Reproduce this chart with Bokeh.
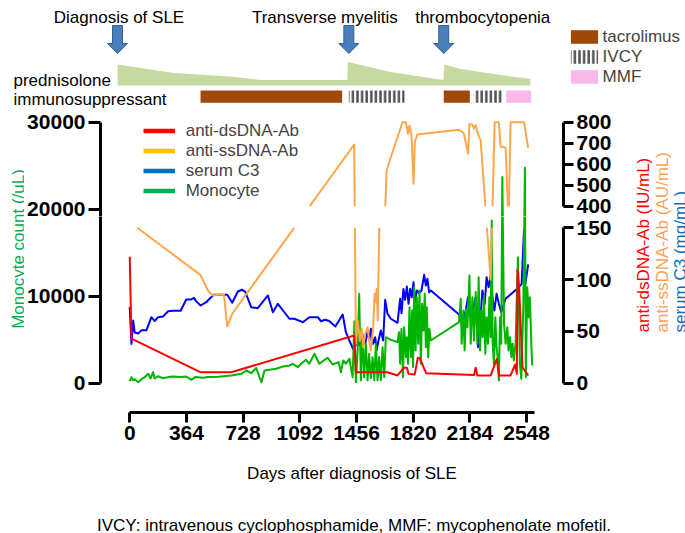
import math
from bokeh.plotting import figure
from bokeh.models import Range1d, LinearAxis, FixedTicker, Legend, LegendItem
from bokeh.layouts import column, row
from bokeh.embed import file_html
from bokeh.resources import INLINE
from bokeh.core.properties import value

FONT = "Liberation Sans"
NAN = float("nan")

# ---------------- data ----------------
event_labels = ["Diagnosis of SLE", "Transverse myelitis", "thrombocytopenia"]
event_days = [0, 1482, 2090]

pred_days = [0, 361, 723, 916, 1472, 1476, 1749, 2088, 2094, 2198, 2369, 2645]
pred_dose = [42, 25, 18, 11, 11, 47, 27, 11, 42, 33, 25, 13]

tacrolimus_start = [532, 2090]
tacrolimus_end = [1439, 2257]
ivcy_start = [1482, 2283]
ivcy_end = [1839, 2465]
mmf_start = [2490]
mmf_end = [2650]
drug_names = ["tacrolimus", "IVCY", "MMF"]
row_labels = ["prednisolone", "immunosuppressant"]

x_ticks = [0, 364, 728, 1092, 1456, 1820, 2184, 2548]
mono_ticks = [0, 10000, 20000, 30000]
ab_low_ticks = [0, 50, 100, 150]
ab_high_ticks = [400, 500, 600, 700, 800]

dsdna_days = [0, 11, 453, 652, 1441, 1452, 1655, 1719, 1762, 1780, 1790, 1830, 1849, 1862, 1903,
              2210, 2221, 2232, 2317, 2357, 2370, 2445, 2474, 2485, 2490, 2500, 2521, 2559]
dsdna_vals = [122, 43, 10.6, 10.6, 46, 10.6, 10.6, 7.5, 15, 15, 9, 8.5, 24.5, 24, 9.7,
              8, 15, 7.5, 7.5, 23.5, 7.5, 7.5, 18, 9, 109.5, 92, 15.4, 7.4]

ssdna_days = [0, 453, 502, 530, 566, 605, 626, 658, 1441, 1452, 1463, 1478, 1489, 1499, 1512,
              1527, 1538, 1548, 1563, 1572, 1578, 1585, 1592, 1603, 1638, 1649, 1676, 1751, 1773,
              1787, 1796, 1809, 1822, 1830, 1847, 2114, 2146, 2172, 2181, 2200, 2210, 2221, 2236,
              2253, 2317, 2343, 2370, 2381, 2413, 2432, 2445, 2531, 2558]
ssdna_vals = [215, 104.6, 89.5, 84.7, 85.3, 85.3, 54.7, 67, 694, 38, 60.5, 41, 52.5, 34.7, 47.7,
              54, 39.6, 31.6, 54, 86.3, 78.2, 91.1, 60.5, 250, 250, 570, 633, 800, 800,
              745, 784, 737, 507, 705, 741, 764, 745, 650, 792, 788, 770, 785, 745,
              713, 100, 800, 800, 684, 678, 190, 800, 800, 678]

c3_days = [0, 11, 22, 32, 54, 75, 107, 139, 160, 182, 214, 246, 278, 327, 363, 395, 412, 427, 455,
           491, 506, 540, 626, 658, 694, 720, 741, 780, 822, 887, 919, 951, 1025, 1057, 1111, 1153,
           1207, 1228, 1254, 1281, 1320, 1367, 1388, 1410, 1437, 1463, 1478, 1495, 1512, 1527, 1538,
           1548, 1563, 1576, 1585, 1597, 1612, 1627, 1640, 1655, 1676, 1719, 1736, 1745, 1757, 1768,
           1779, 1790, 1800, 1811, 1822, 1832, 1843, 1858, 1873, 1890, 1901, 1911, 1922, 1933, 2114,
           2136, 2157, 2172, 2189, 2206, 2221, 2236, 2249, 2264, 2279, 2291, 2304, 2317, 2328, 2341,
           2355, 2370, 2385, 2413, 2499, 2516, 2531, 2540, 2558]
c3_vals = [73.4, 38, 60.5, 49, 48, 51, 51, 63.7, 60, 63.7, 64.4, 69.5, 70, 70, 80.8, 80.8, 82.4, 79, 75,
           78.2, 80.5, 85.3, 85.3, 77.6, 88.5, 90.2, 88.5, 73.4, 72.4, 84.7, 68.5, 76.6, 62.2, 62.2, 58.9, 63.7,
           63.7, 59.8, 61.2, 60, 54.7, 66.3, 49.2, 41.2, 32.2, 41.2, 36.4, 44.4, 38, 50.9, 41.2,
           52.5, 38, 44.4, 31.6, 41.2, 50.9, 41.2, 80.5, 67, 62.2, 58.3, 81.5, 67.6, 91, 80.5,
           93.3, 76.6, 91.1, 83, 97.5, 78.2, 89.5, 86.9, 89.5, 104.6, 94.3, 100.8, 87.8, 89.5, 66.3,
           57.3, 70.2, 83, 61.2, 73.4, 83, 34.7, 57.3, 89.5, 76.6, 102.3, 92.7, 103, 83, 70.2,
           86.3, 76.6, 68.5, 81.5, 92.7, 96, 148, 96, 114.6]

mono_days = [0, 11, 22, 32, 54, 75, 96, 118, 134, 150, 160, 182, 214, 246, 278, 327, 363, 395, 420, 470,
             502, 566, 605, 652, 716, 748, 780, 812, 833, 846, 865, 940, 983, 1025, 1047, 1079, 1100,
             1132, 1153, 1186, 1217, 1239, 1271, 1303, 1341, 1356, 1371, 1388, 1410, 1431, 1442, 1452,
             1463, 1473, 1484, 1495, 1505, 1516, 1527, 1537, 1548, 1559, 1570, 1580, 1591, 1601, 1612,
             1623, 1634, 1644, 1676, 1719, 1729, 1736, 1745, 1754, 1762, 1773, 1779, 1787, 1796, 1805,
             1813, 1819, 1826, 1835, 1843, 1852, 1860, 1869, 1877, 1886, 1894, 1901, 1907, 1916, 1924,
             1933, 2114, 2125, 2131, 2142, 2150, 2159, 2168, 2181, 2189, 2200, 2210, 2221, 2232, 2240,
             2249, 2257, 2266, 2274, 2283, 2291, 2300, 2309, 2317, 2324, 2330, 2338, 2347, 2355, 2364,
             2370, 2377, 2385, 2392, 2403, 2413, 2424, 2432, 2441, 2450, 2458, 2466, 2477, 2492, 2505,
             2514, 2527, 2537, 2543, 2552, 2562, 2569, 2578, 2584]
mono_vals = [230, 690, 350, 460, 115, 460, 690, 1080, 550, 1265, 550, 800, 575, 700, 770, 700, 770, 390, 700, 620,
             700, 735, 800, 885, 1080, 1460, 1150, 1750, 690, 100, 1460, 1655, 1920, 2035, 2230, 1840, 2230,
             2690, 2230, 3380, 2230, 2530, 2920, 2150, 2415, 1265, 2610, 2230, 2800, 690, 7130, 115,
             3760, 10280, 310, 5680, 690, 4530, 350, 3380, 580, 2990, 350, 4530, 350, 3000, 350,
             4140, 700, 5290, 4990, 4720, 5860, 2230, 6250, 690, 6440, 2990, 5290, 2230, 8740, 2990,
             8360, 1840, 11030, 3760, 9890, 4530, 10660, 2230, 9130, 6060, 10280, 4140, 8740, 2990, 6250,
             4910, 7010, 9700, 4530, 8360, 3760, 8550, 6440, 12380, 4530, 9890, 4910, 10470, 4530, 12190,
             3760, 8360, 5290, 10080, 3380, 7590, 4530, 9890, 5290, 18700, 4530, 2230, 7590, 4140, 2610,
             310, 7590, 4530, 23700, 6830, 4530, 6440, 3760, 5290, 2990, 4530, 2610, 4530, 14490, 2230,
             500, 9130, 24760, 690, 11030, 7590, 9890, 4530, 2035]

series_names = ["anti-dsDNA-Ab", "anti-ssDNA-Ab", "serum C3", "Monocyte"]
right_labels = ["anti-dsDNA-Ab (IU/mL)", "anti-ssDNA-Ab (AU/mL)", "serum C3 (mg/mL)"]
left_label = "Monocyte count (/uL)"
x_label = "Days after diagnosis of SLE"
caption = "IVCY: intravenous cyclophosphamide, MMF: mycophenolate mofetil."

# ---------------- styles / geometry (pixels) ----------------
RED, ORANGE, BLUE, GREEN = "#FF0000", "#FFA64D", "#0000FF", "#00B400"
LEG_COLORS = ["#FF0000", "#FFC000", "#0070C0", "#00B050"]
LABEL_COLORS = ["#FF0000", "#F8A255", "#0070C0"]

W = 685
PX_PER_DAY = 0.1561
LOW_PX, GAP_PX, UP_PX = 155.4, 21.6, 84.0      # broken right axis: 0-150 / gap / 400-800
MONO_PX = 261.0                                 # 0-30000
ZERO_PX = 29.3                                  # zero line above lower frame bottom
TOP_H, UP_H, LOW_FRAME_H, LOW_H, BOT_H = 108, 108, 196, 240, 77
LF_W, RF_W = 24, 60
MAIN_W = W - LF_W - RF_W
BL, BR = 99 - LF_W, 62
FRAME_W = MAIN_W - BL - BR
DAY0_PX = 29.3

D_PER_PX = 150.0 / LOW_PX
M_PER_PX = 30000.0 / MONO_PX
GAP_D = GAP_PX * D_PER_PX
UP_D = UP_PX * D_PER_PX
LO, HI = 150.0, 150.0 + GAP_D


def tf(v):
    if v <= 150:
        return v
    if v < 400:
        return 150 + (v - 150) / 250.0 * GAP_D
    return HI + (v - 400) / 400.0 * UP_D


def inv_tf_up(d):
    return 400 + (d - HI) * 400.0 / UP_D


def split_gap(xs, ds, lo, hi):
    px, py = [], []
    cur = None
    for i in range(len(xs) - 1):
        x0, x1, d0, d1 = xs[i], xs[i + 1], ds[i], ds[i + 1]
        ts = [0.0, 1.0]
        for b in (lo, hi):
            if (d0 - b) * (d1 - b) < 0:
                ts.append((b - d0) / (d1 - d0))
        ts.sort()
        for ta, tb in zip(ts[:-1], ts[1:]):
            dm = d0 + (ta + tb) / 2 * (d1 - d0)
            if lo < dm < hi:
                cur = None
                continue
            xa, da = x0 + ta * (x1 - x0), d0 + ta * (d1 - d0)
            xb, db = x0 + tb * (x1 - x0), d0 + tb * (d1 - d0)
            if cur is None:
                cur = ([xa], [da])
                px.append(cur[0])
                py.append(cur[1])
            cur[0].append(xb)
            cur[1].append(db)
    return px, py


def bare(p):
    p.xgrid.grid_line_color = None
    p.ygrid.grid_line_color = None
    p.outline_line_color = None


def style_axis(ax, tick_out):
    ax.axis_line_width = 3
    ax.axis_line_color = "black"
    ax.major_tick_line_width = 3
    ax.major_tick_line_color = "black"
    ax.major_tick_out = tick_out
    ax.major_tick_in = 0
    ax.minor_tick_line_color = None
    ax.major_label_text_font = FONT
    ax.major_label_text_font_style = "bold"
    ax.major_label_text_font_size = "21px"
    ax.major_label_text_color = "black"
    ax.major_label_standoff = 3


common = dict(output_backend="svg", toolbar_location=None,
              x_axis_location=None, y_axis_location=None)

# ---------------- top schematic ----------------
sx0 = -117 / PX_PER_DAY
top = figure(width=W, height=TOP_H, x_range=Range1d(sx0, sx0 + W / PX_PER_DAY),
             y_range=Range1d(0, TOP_H), min_border=0, **common)
bare(top)

PRED_BASE, PRED_SCALE = 23, 0.5
top.varea(x=pred_days, y1=[PRED_BASE] * len(pred_days),
          y2=[PRED_BASE + PRED_SCALE * d for d in pred_dose], fill_color="#C5D9A0")

BAR_B, BAR_T = 5.7, 18
r_tac = top.quad(left=tacrolimus_start, right=tacrolimus_end, bottom=BAR_B, top=BAR_T,
                 fill_color="#A0480A", line_color=None)
r_ivcy = top.quad(left=ivcy_start, right=ivcy_end, bottom=BAR_B, top=BAR_T,
                  fill_color="white", line_color=None, hatch_pattern="vertical_line",
                  hatch_color="#4D4D4D", hatch_weight=2.4, hatch_scale=4.6)
r_mmf = top.quad(left=mmf_start, right=mmf_end, bottom=BAR_B, top=BAR_T,
                 fill_color="#F9B9EB", line_color=None)

AR_TOP, AR_NECK, AR_TIP = 83, 65, 55
hw, HW = 5 / PX_PER_DAY, 10 / PX_PER_DAY
arrow_xs = [[e - hw, e + hw, e + hw, e + HW, e, e - HW, e - hw] for e in event_days]
arrow_ys = [[AR_TOP, AR_TOP, AR_NECK, AR_NECK, AR_TIP, AR_NECK, AR_NECK] for _ in event_days]
top.patches(arrow_xs, arrow_ys, fill_color="#4A7EBB", line_color="#35608F", line_width=1)

top.text(x=event_days, y=[91.5] * len(event_days), text=event_labels, x_offset=[1.5, -24, 39],
         text_align="center", text_baseline="alphabetic", text_font=value(FONT),
         text_font_size="17px", text_color="black")
ROW_X = -104 / PX_PER_DAY
top.text(x=[ROW_X] * 2, y=[28, 9], text=row_labels, text_align="left", text_baseline="alphabetic",
         text_font=value(FONT), text_font_size="17px", text_color="black")

leg_top = Legend(items=[LegendItem(label=drug_names[0], renderers=[r_tac]),
                        LegendItem(label=drug_names[1], renderers=[r_ivcy]),
                        LegendItem(label=drug_names[2], renderers=[r_mmf])],
                 location=(566.6, 21.5), glyph_width=34, glyph_height=17, label_standoff=2,
                 spacing=-1, padding=0, margin=0, border_line_color=None, background_fill_alpha=0,
                 label_text_font=FONT, label_text_font_size="17px", label_height=17)
top.add_layout(leg_top)

# ---------------- main plot (upper + lower parts) ----------------
x0d = -DAY0_PX / PX_PER_DAY
X_RANGE = Range1d(x0d, x0d + FRAME_W / PX_PER_DAY)

split_m = (LOW_FRAME_H - ZERO_PX) * M_PER_PX
split_d = (LOW_FRAME_H - ZERO_PX) * D_PER_PX
up_top_d = split_d + UP_H * D_PER_PX

up = figure(width=MAIN_W, height=UP_H, x_range=X_RANGE,
            y_range=Range1d(split_m, split_m + UP_H * M_PER_PX),
            min_border_left=BL, min_border_right=BR, min_border_top=0, min_border_bottom=0, **common)
up.extra_y_ranges = {"d": Range1d(split_d, up_top_d),
                     "v": Range1d(inv_tf_up(split_d), inv_tf_up(up_top_d))}
bare(up)

low = figure(width=MAIN_W, height=LOW_H, x_range=X_RANGE,
             y_range=Range1d(-ZERO_PX * M_PER_PX, split_m),
             min_border_left=BL, min_border_right=BR, min_border_top=0,
             min_border_bottom=LOW_H - LOW_FRAME_H, **common)
low.extra_y_ranges = {"d": Range1d(-ZERO_PX * D_PER_PX, split_d)}
bare(low)

# left axis split across the two parts (bounds kept inside each part's range)
ax_ul = LinearAxis(ticker=FixedTicker(ticks=mono_ticks), bounds=(split_m, mono_ticks[-1]))
style_axis(ax_ul, 12)
up.add_layout(ax_ul, "left")
ax_ll = LinearAxis(ticker=FixedTicker(ticks=mono_ticks), bounds=(mono_ticks[0], split_m))
style_axis(ax_ll, 12)
low.add_layout(ax_ll, "left")

ax_up = LinearAxis(y_range_name="v", ticker=FixedTicker(ticks=ab_high_ticks),
                   bounds=(ab_high_ticks[0], ab_high_ticks[-1]))
style_axis(ax_up, 10)
up.add_layout(ax_up, "right")

ax_low = LinearAxis(y_range_name="d", ticker=FixedTicker(ticks=ab_low_ticks),
                    bounds=(ab_low_ticks[0], ab_low_ticks[-1]))
style_axis(ax_low, 10)
low.add_layout(ax_low, "right")

ax_x = LinearAxis(ticker=FixedTicker(ticks=x_ticks), bounds=(0, 2600))
style_axis(ax_x, 10)
low.add_layout(ax_x, "below")

ss_px, ss_py = split_gap(ssdna_days, [tf(v) for v in ssdna_vals], LO, HI)
for p in (up, low):
    p.line(c3_days, c3_vals, y_range_name="d", line_color=BLUE, line_width=2, line_join="round")
    p.line(mono_days, mono_vals, line_color=GREEN, line_width=2, line_join="round")
    p.multi_line(ss_px, ss_py, y_range_name="d", line_color=ORANGE, line_width=2, line_join="round")
    p.line(dsdna_days, dsdna_vals, y_range_name="d", line_color=RED, line_width=2, line_join="round")

leg_items = []
for name, col in zip(series_names, LEG_COLORS):
    r = up.line(x=[NAN, NAN], y=[NAN, NAN], line_color=col, line_width=4.3)
    leg_items.append(LegendItem(label=name, renderers=[r]))
leg_main = Legend(items=leg_items, location=(42.7, 15.5), glyph_width=32, glyph_height=17,
                  label_standoff=11, spacing=-2, padding=0, margin=0, border_line_color=None,
                  background_fill_alpha=0, label_text_font=FONT, label_text_font_size="17px",
                  label_height=17)
up.add_layout(leg_main)

# ---------------- side label panels ----------------
SIDE_H = UP_H + LOW_H
lf = figure(width=LF_W, height=SIDE_H, x_range=Range1d(0, LF_W), y_range=Range1d(0, SIDE_H),
            min_border=0, **common)
bare(lf)
lf.text(x=[17.5], y=[SIDE_H - 140.5], text=[left_label], angle=math.pi / 2, text_align="center",
        text_baseline="alphabetic", text_font=value(FONT), text_font_size="17px", text_color="#00B050")

rf = figure(width=RF_W, height=SIDE_H, x_range=Range1d(0, RF_W), y_range=Range1d(0, SIDE_H),
            min_border=0, **common)
bare(rf)
rf.text(x=[18, 36.5, 55], y=[SIDE_H - 224] * 3, text=right_labels, angle=math.pi / 2,
        text_align="left", text_baseline="alphabetic", text_font=value(FONT),
        text_font_size="17px", text_color=LABEL_COLORS)

# ---------------- bottom texts ----------------
bot = figure(width=W, height=BOT_H, x_range=Range1d(0, W), y_range=Range1d(0, BOT_H),
             min_border=0, **common)
bare(bot)
bot.text(x=[351.5, 353.5], y=[BOT_H - 17, 8], text=[x_label, caption], text_align="center",
         text_baseline="alphabetic", text_font=value(FONT), text_font_size="17px", text_color="black")

layout = column(top, row(lf, column(up, low, spacing=0), rf, spacing=0), bot, spacing=0)

open("out.html", "w").write(file_html(layout, INLINE, title="SLE course"))
